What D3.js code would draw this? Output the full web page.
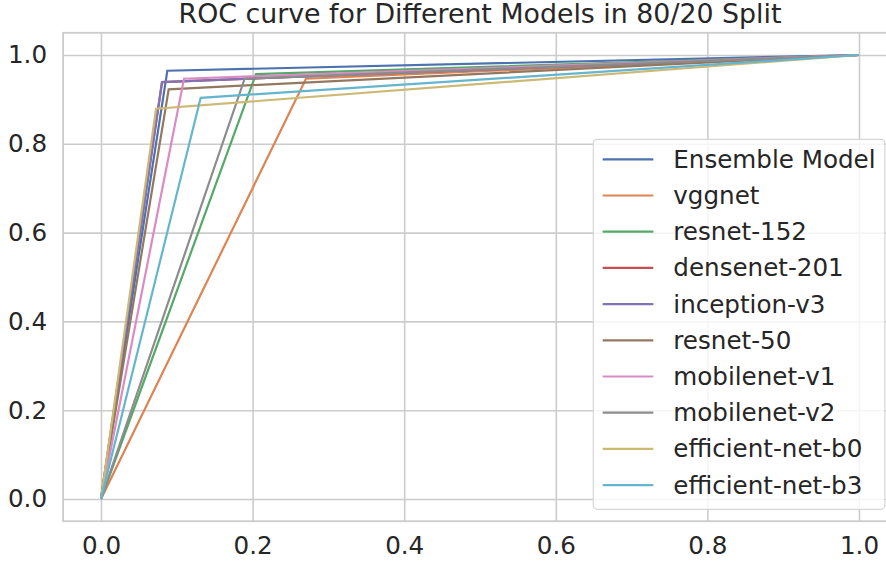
<!DOCTYPE html>
<html>
<head>
<meta charset="utf-8">
<script src="https://cdn.jsdelivr.net/npm/d3@7"></script>
<style>
  html, body { margin: 0; padding: 0; background: #ffffff; }
  svg { display: block; font-family: "DejaVu Sans", sans-serif; }
</style>
</head>
<body>
<svg id="chart" width="886" height="563"></svg>
<script>
// Model names, in plotting / legend order
const models = ["Ensemble Model", "vggnet", "resnet-152", "densenet-201", "inception-v3",
                "resnet-50", "mobilenet-v1", "mobilenet-v2", "efficient-net-b0", "efficient-net-b3"];
// Operating point (false positive rate, true positive rate) of each model
const fpr = [0.0875, 0.2704, 0.2045, 0.0805, 0.0805, 0.0893, 0.1095, 0.1895, 0.0726, 0.1315];
const tpr = [0.9646, 0.9466, 0.9570, 0.9390, 0.9390, 0.9228, 0.9466, 0.9466, 0.8790, 0.9036];
// Line colours (seaborn "deep" palette)
const colors = ["#4C72B0", "#DD8452", "#55A868", "#C44E52", "#8172B3",
                "#937860", "#DA8BC3", "#8C8C8C", "#CCB974", "#64B5CD"];
const xTicks = [0, 0.2, 0.4, 0.6, 0.8, 1.0];
const yTicks = [0, 0.2, 0.4, 0.6, 0.8, 1.0];
const title = "ROC curve for Different Models in 80/20 Split";

const svg = d3.select("#chart");
const plotLeft = 63.1, plotRight = 896.9, plotTop = 32.8, plotBottom = 521.2;
const textColor = "#262626";
const gridColor = "#cccccc";
const labelSize = "24.6px";

const x = d3.scaleLinear().domain([-0.05, 1.05]).range([plotLeft, plotRight]);
const y = d3.scaleLinear().domain([-0.05, 1.05]).range([plotBottom, plotTop]);

// Gridlines and tick labels via axis generators
const xAxis = d3.axisBottom(x).tickValues(xTicks).tickFormat(d3.format(".1f"))
  .tickSizeInner(-(plotBottom - plotTop)).tickSizeOuter(0).tickPadding(15);
const yAxis = d3.axisLeft(y).tickValues(yTicks).tickFormat(d3.format(".1f"))
  .tickSizeInner(-(plotRight - plotLeft)).tickSizeOuter(0).tickPadding(16);

const gx = svg.append("g").attr("transform", `translate(0,${plotBottom})`).call(xAxis);
const gy = svg.append("g").attr("transform", `translate(${plotLeft},0)`).call(yAxis);
[gx, gy].forEach(g => {
  g.select(".domain").remove();
  g.selectAll(".tick line").attr("stroke", gridColor).attr("stroke-width", 1.6);
  g.selectAll(".tick text").attr("fill", textColor)
    .style("font-family", "'DejaVu Sans', sans-serif").style("font-size", labelSize);
});
gx.selectAll(".tick text").attr("dy", "0.71em");

// Axes frame
svg.append("rect")
  .attr("x", plotLeft).attr("y", plotTop)
  .attr("width", plotRight - plotLeft).attr("height", plotBottom - plotTop)
  .attr("fill", "none").attr("stroke", gridColor).attr("stroke-width", 1.8);

// ROC curves
const line = d3.line().x(d => x(d[0])).y(d => y(d[1]));
models.forEach((m, i) => {
  const pts = [[0, 0], [fpr[i], tpr[i]], [1, 1]];
  svg.append("path")
    .datum(pts)
    .attr("d", line)
    .attr("fill", "none")
    .attr("stroke", colors[i])
    .attr("stroke-width", 2.2)
    .attr("stroke-linejoin", "miter");
});

// Title
svg.append("text")
  .attr("x", (plotLeft + plotRight) / 2).attr("y", 23)
  .attr("text-anchor", "middle")
  .attr("fill", textColor)
  .style("font-size", "26.8px")
  .text(title);

// Legend
const lg = svg.append("g");
lg.append("rect")
  .attr("x", 593.3).attr("y", 139.3)
  .attr("width", 291.5).attr("height", 370)
  .attr("rx", 4).attr("ry", 4)
  .attr("fill", "rgba(255,255,255,0.8)")
  .attr("stroke", "#d6d6d6").attr("stroke-width", 1.2);
models.forEach((m, i) => {
  const yy = 159.3 + i * 36.2;
  lg.append("line")
    .attr("x1", 602.7).attr("x2", 653.3)
    .attr("y1", yy).attr("y2", yy)
    .attr("stroke", colors[i]).attr("stroke-width", 2.2);
  lg.append("text")
    .attr("x", 673.3).attr("y", yy + 8.4)
    .attr("fill", textColor)
    .style("font-size", labelSize)
    .text(m);
});
</script>
</body>
</html>
